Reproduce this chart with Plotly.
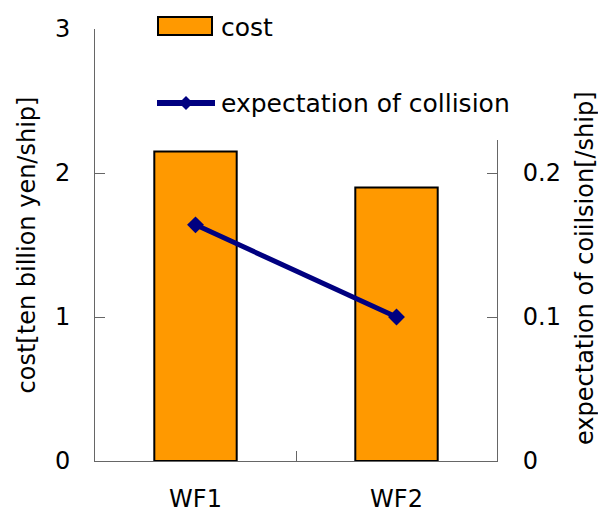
import plotly.graph_objects as go

# Data
categories = ["WF1", "WF2"]
cost = [2.15, 1.90]                 # ten billion yen / ship
collision = [0.164, 0.100]          # expected collisions / ship
left_ticks = [0, 1, 2, 3]
right_ticks = [0, 0.1, 0.2]

W, H = 598, 516
ML, MR, MT, MB = 95, 101, 29, 55
PW, PH = W - ML - MR, H - MT - MB

FONT = "DejaVu Sans"
ORANGE = "#FF9900"
NAVY = "#000080"
AXIS = "#666666"


def px(x):
    return (x - ML) / PW


def py(y):
    return (H - MB - y) / PH


fig = go.Figure()

fig.add_trace(go.Bar(
    x=categories, y=cost, name="cost", width=0.41,
    marker=dict(color=ORANGE, line=dict(color="black", width=2)),
    yaxis="y", showlegend=False,
))
fig.add_trace(go.Scatter(
    x=categories, y=collision, name="expectation of collision",
    mode="lines+markers",
    line=dict(color=NAVY, width=5),
    marker=dict(symbol="diamond", size=13, color=NAVY),
    yaxis="y2", showlegend=False,
))

shapes = [
    # legend background (hides the top of the right axis)
    dict(type="rect", xref="paper", yref="paper", layer="above",
         x0=px(148), x1=px(528), y0=py(140), y1=py(2),
         fillcolor="white", line=dict(width=0)),
    # legend: cost swatch
    dict(type="rect", xref="paper", yref="paper", layer="above",
         x0=px(158), x1=px(212), y0=py(35), y1=py(17),
         fillcolor=ORANGE, line=dict(color="black", width=2)),
    # legend: collision line
    dict(type="line", xref="paper", yref="paper", layer="above",
         x0=px(157), x1=px(215), y0=py(103), y1=py(103),
         line=dict(color=NAVY, width=6)),
    dict(type="path", xref="paper", yref="paper", layer="above",
         path=(f"M {px(179)} {py(103)} L {px(186)} {py(96)} "
               f"L {px(193)} {py(103)} L {px(186)} {py(110)} Z"),
         fillcolor=NAVY, line=dict(width=0)),
]

annotations = [
    dict(text="cost", xref="paper", yref="paper", x=px(219), y=py(27),
         xanchor="left", yanchor="middle", showarrow=False,
         font=dict(family=FONT, size=25, color="black")),
    dict(text="expectation of collision", xref="paper", yref="paper",
         x=px(219), y=py(103), xanchor="left", yanchor="middle",
         showarrow=False, font=dict(family=FONT, size=25, color="black")),
    # right-axis title
    dict(text="expectation of coiilsion[/ship]", xref="paper", yref="paper",
         x=px(585), y=py(268), xanchor="center", yanchor="middle",
         textangle=-90, showarrow=False,
         font=dict(family=FONT, size=24, color="black")),
]

fig.update_layout(
    width=W, height=H,
    margin=dict(l=ML, r=MR, t=MT, b=MB, autoexpand=False),
    paper_bgcolor="white", plot_bgcolor="white",
    font=dict(family=FONT, size=22, color="black"),
    showlegend=False,
    bargap=0.59,
    xaxis=dict(
        type="category", showline=True, linecolor=AXIS, linewidth=1,
        ticks="inside", ticklen=10, tickcolor=AXIS, tickson="boundaries",
        showgrid=False, ticklabelstandoff=16, automargin=False,
        tickfont=dict(family=FONT, size=24),
    ),
    yaxis=dict(
        range=[0, 3], tickvals=left_ticks, showline=True, linecolor=AXIS,
        linewidth=1, ticks="inside", ticklen=10, tickcolor=AXIS,
        showgrid=False, zeroline=False, ticklabelstandoff=19,
        automargin=False, tickfont=dict(family=FONT, size=24),
        title=dict(text="cost[ten billion yen/ship]",
                   font=dict(family=FONT, size=24), standoff=12),
    ),
    yaxis2=dict(
        range=[0, 0.3], tickvals=right_ticks, overlaying="y", side="right",
        showline=True, linecolor=AXIS, linewidth=1, ticks="inside",
        ticklen=10, tickcolor=AXIS, showgrid=False, zeroline=False,
        ticklabelstandoff=20, automargin=False,
        tickfont=dict(family=FONT, size=24),
    ),
    shapes=shapes,
    annotations=annotations,
)

fig.write_html("out.html")
